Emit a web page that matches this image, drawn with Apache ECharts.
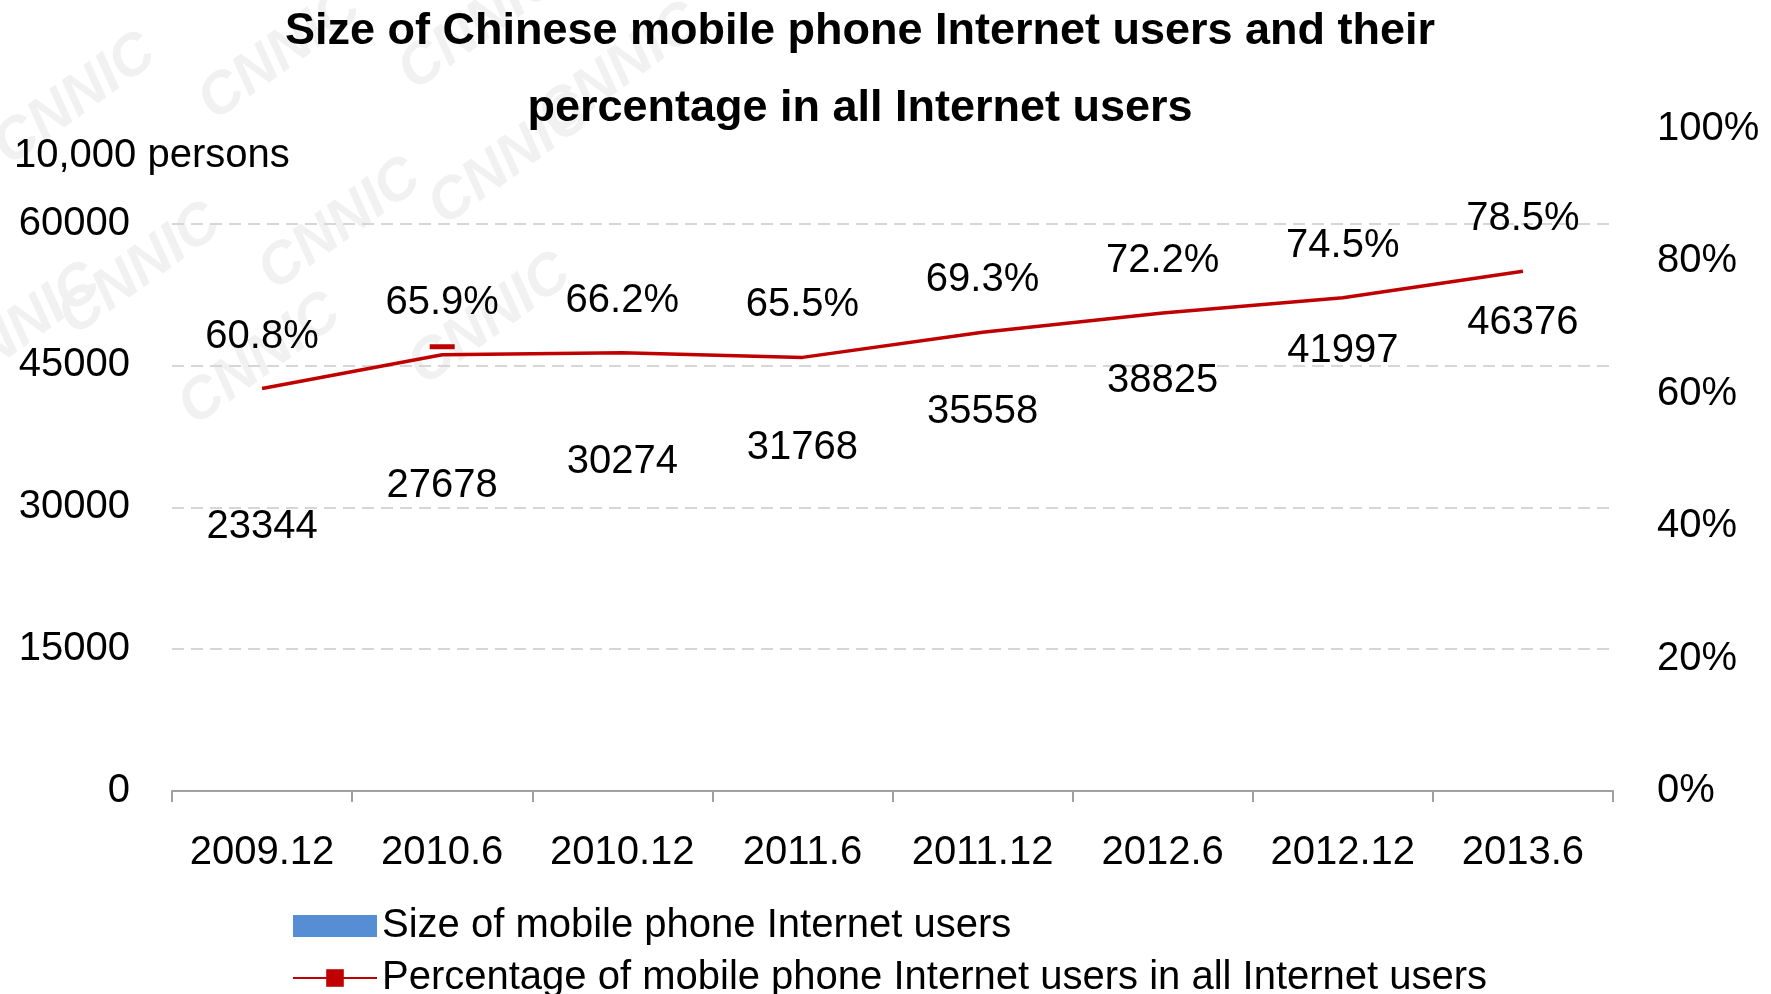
<!DOCTYPE html>
<html>
<head>
<meta charset="utf-8">
<script src="https://cdn.jsdelivr.net/npm/echarts@6/dist/echarts.min.js"></script>
<style>
  html, body { margin: 0; padding: 0; background: #ffffff; }
  #chart { width: 1771px; height: 994px; }
</style>
</head>
<body>
<div id="chart"></div>
<script>
// Reporting periods
const categories = ['2009.12', '2010.6', '2010.12', '2011.6', '2011.12', '2012.6', '2012.12', '2013.6'];
// Mobile phone Internet users, in 10,000 persons
const userCounts = [23344, 27678, 30274, 31768, 35558, 38825, 41997, 46376];
// Share of mobile phone users among all Internet users, in %
const userShares = [60.8, 65.9, 66.2, 65.5, 69.3, 72.2, 74.5, 78.5];
// Tick labels shown on the two value axes
const countTicks = [0, 15000, 30000, 45000, 60000];
const shareTicks = [0, 20, 40, 60, 80, 100];

const FONT = "'Liberation Sans', Arial, Helvetica, sans-serif";
const BAR_NAME = 'Size of mobile phone Internet users';
const LINE_NAME = 'Percentage of mobile phone Internet users in all Internet users';

// Faint diagonal "CNNIC" stamps in the upper-left corner
const stampSpots = [
  [75, 100], [280, 55], [480, 25], [140, 270], [340, 225], [510, 160],
  [20, 330], [490, 320], [620, 70], [260, 360]
];
const stamps = stampSpots.map(function (p) {
  return {
    type: 'text',
    x: p[0], y: p[1],
    rotation: 0.62,
    z: -10,
    silent: true,
    style: {
      text: 'CNNIC',
      font: 'italic bold 58px ' + FONT,
      fill: '#f1f1f1',
      textAlign: 'center',
      textVerticalAlign: 'middle'
    }
  };
});

const chart = echarts.init(document.getElementById('chart'));
chart.setOption({
  backgroundColor: '#ffffff',
  animation: false,
  textStyle: { fontFamily: FONT, color: '#000000' },
  title: {
    text: 'Size of Chinese mobile phone Internet users and their\npercentage in all Internet users',
    left: 860,
    top: -7,
    padding: 0,
    textAlign: 'center',
    textStyle: {
      fontFamily: FONT,
      fontSize: 45,
      fontWeight: 'bold',
      lineHeight: 77,
      color: '#000000'
    }
  },
  graphic: stamps.concat([
    {
      type: 'text',
      x: 14, y: 156,
      style: {
        text: '10,000 persons',
        font: '40px ' + FONT,
        fill: '#000000',
        textAlign: 'left',
        textVerticalAlign: 'middle'
      }
    }
  ]),
  legend: {
    orient: 'vertical',
    left: 292,
    top: 906,
    height: 120,
    padding: 0,
    itemWidth: 84,
    itemHeight: 22,
    itemGap: 12,
    itemTextGap: 13,
    selectedMode: false,
    textStyle: { fontFamily: FONT, fontSize: 40, color: '#000000' },
    data: [
      { name: BAR_NAME, icon: 'rect', itemStyle: { color: '#558ED5' } },
      { name: LINE_NAME }
    ]
  },
  grid: {
    left: 172,
    right: 158,
    top: 129,
    bottom: 203,
    containLabel: false,
    outerBoundsMode: 'none'
  },
  xAxis: {
    type: 'category',
    data: categories,
    boundaryGap: true,
    axisLine: { lineStyle: { color: '#a0a0a0', width: 2 } },
    axisTick: { show: true, interval: 0, length: 11, lineStyle: { color: '#a0a0a0', width: 2 } },
    axisLabel: { interval: 0, margin: 42, fontSize: 40, color: '#000000', fontFamily: FONT }
  },
  yAxis: [
    {
      type: 'value',
      min: 0,
      max: 70000,
      interval: 15000,
      axisLine: { show: false },
      axisTick: { show: false },
      axisLabel: {
        margin: 42,
        padding: [7, 0, 0, 0],
        fontSize: 40,
        color: '#000000',
        fontFamily: FONT,
        showMaxLabel: false,
        formatter: function (v) { return countTicks.indexOf(v) >= 0 ? String(v) : ''; }
      },
      splitLine: {
        show: true,
        showMinLine: false,
        showMaxLine: false,
        lineStyle: { color: '#d6d6d6', width: 2, type: [12, 7] }
      }
    },
    {
      type: 'value',
      min: 0,
      max: 100,
      interval: 20,
      position: 'right',
      axisLine: { show: false },
      axisTick: { show: false },
      splitLine: { show: false },
      axisLabel: {
        margin: 44,
        padding: [7, 0, 0, 0],
        fontSize: 40,
        color: '#000000',
        fontFamily: FONT,
        formatter: function (v) { return shareTicks.indexOf(v) >= 0 ? v + '%' : ''; }
      }
    }
  ],
  series: [
    {
      name: BAR_NAME,
      type: 'bar',
      yAxisIndex: 0,
      barWidth: '55%',
      itemStyle: { color: 'rgba(0,0,0,0)' },
      label: {
        show: true,
        position: 'top',
        distance: 23,
        fontSize: 40,
        color: '#000000',
        fontFamily: FONT
      },
      data: userCounts.map(function (v, i) {
        // the last count label sits a little lower, clear of the line
        return i === userCounts.length - 1
          ? { value: v, label: { offset: [0, 14] } }
          : v;
      }),
      z: 2
    },
    {
      name: LINE_NAME,
      type: 'line',
      yAxisIndex: 1,
      data: userShares,
      symbol: 'rect',
      symbolSize: 0,
      color: '#C00000',
      lineStyle: { color: '#C00000', width: 3.5 },
      itemStyle: { color: '#C00000' },
      label: {
        show: true,
        position: 'top',
        distance: 32,
        fontSize: 40,
        color: '#000000',
        fontFamily: FONT,
        formatter: '{c}%'
      },
      markPoint: {
        silent: true,
        symbol: 'rect',
        symbolSize: [25, 5],
        symbolOffset: [0, -8],
        label: { show: false },
        itemStyle: { color: '#C00000' },
        data: [{ coord: [categories[1], userShares[1]] }]
      },
      z: 3
    }
  ]
});
</script>
</body>
</html>
